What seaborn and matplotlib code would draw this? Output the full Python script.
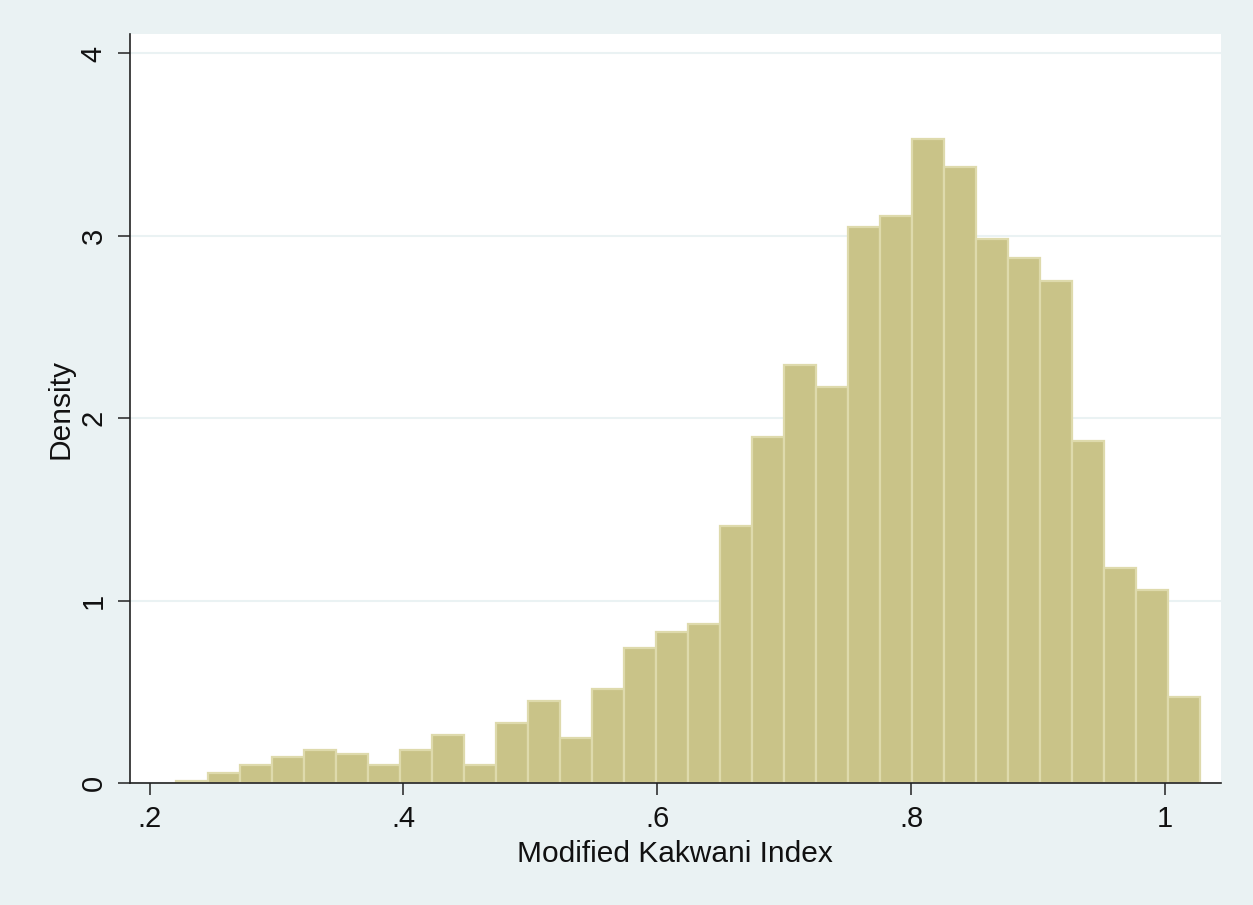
import matplotlib
matplotlib.use("Agg")
import matplotlib.pyplot as plt
import numpy as np
import pandas as pd
import seaborn as sns

# histogram: 32 equal bins, heights are densities
bin_start = 0.2205
bin_width = 0.02522
density = [0.01, 0.056, 0.098, 0.14, 0.18, 0.16, 0.098, 0.18,
           0.264, 0.098, 0.327, 0.45, 0.245, 0.514, 0.74, 0.83,
           0.87, 1.41, 1.895, 2.29, 2.17, 3.05, 3.11, 3.53,
           3.38, 2.98, 2.88, 2.75, 1.875, 1.18, 1.06, 0.47]
x_ticks = [0.2, 0.4, 0.6, 0.8, 1.0]
x_tick_labels = [".2", ".4", ".6", ".8", "1"]
y_ticks = [0, 1, 2, 3, 4]
y_tick_labels = ["0", "1", "2", "3", "4"]
x_label = "Modified Kakwani Index"
y_label = "Density"

edges = bin_start + bin_width * np.arange(len(density) + 1)
df = pd.DataFrame({"mid": (edges[:-1] + edges[1:]) / 2, "density": density})

sns.set_theme(style="white")
plt.rcParams['font.family'] = ['Liberation Sans', 'DejaVu Sans']

bg = "#eaf2f3"
fig = plt.figure(figsize=(12.53, 9.05), dpi=100, facecolor=bg)
ax = fig.add_axes([0.1037, 0.1348, 0.8707, 0.8271])
ax.set_facecolor("white")

# bins as a plain list (seaborn compares it against "auto")
sns.histplot(data=df, x="mid", weights="density", bins=edges.tolist(),
             stat="count", color="#c9c388", edgecolor="#dedaac",
             linewidth=1.6, alpha=1, ax=ax)

ax.set_xlim(0.1845, 1.0442)
ax.set_ylim(0, 4.104)
ax.set_xticks(x_ticks)
ax.set_xticklabels(x_tick_labels)
ax.set_yticks(y_ticks)
ax.set_yticklabels(y_tick_labels, rotation=90, va="center")

ax.set_axisbelow(True)
ax.yaxis.grid(True, color=bg, linewidth=1.5)
ax.xaxis.grid(False)

for s in ["top", "right"]:
    ax.spines[s].set_visible(False)
for s in ["left", "bottom"]:
    ax.spines[s].set_color("#222222")
    ax.spines[s].set_linewidth(1.2)

ax.tick_params(axis="both", direction="out", length=8.5, width=1.1,
               color="#222222", labelsize=21, labelcolor="#111111",
               bottom=True, left=True)
ax.tick_params(axis="x", pad=7.5)
ax.tick_params(axis="y", pad=7.5)

ax.set_xlabel(x_label, fontsize=21.5, color="#111111", labelpad=5)
ax.set_ylabel(y_label, fontsize=21.5, color="#111111", labelpad=4)

fig.savefig("out.png", dpi=100, facecolor=fig.get_facecolor())
